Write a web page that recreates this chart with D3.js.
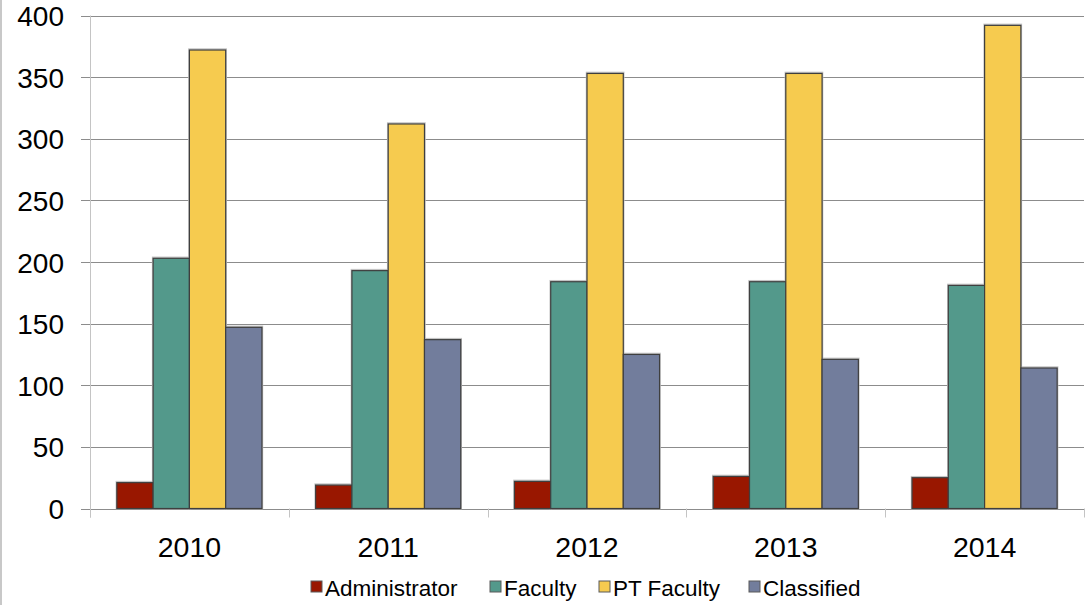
<!DOCTYPE html>
<html>
<head>
<meta charset="utf-8">
<script src="https://cdn.jsdelivr.net/npm/d3@7"></script>
<style>
  body { margin: 0; background: #fff; }
  svg { display: block; font-family: "Liberation Sans", Arial, sans-serif; }
</style>
</head>
<body>
<div class="chart"></div>
<script>
// Staff counts by year, grouped bars
var years = ["2010", "2011", "2012", "2013", "2014"];
var seriesNames = ["Administrator", "Faculty", "PT Faculty", "Classified"];
var administrator = [21, 19, 22, 26, 25];
var faculty = [203, 193, 184, 184, 181];
var ptFaculty = [372, 312, 353, 353, 392];
var classified = [147, 137, 125, 121, 114];
var yTicks = [0, 50, 100, 150, 200, 250, 300, 350, 400];
var colors = ["#991700", "#53998b", "#f6cb4f", "#727d9c"];

var svgWidth = 1085;
var svgHeight = 605;

// plot area
var margin = { top: 15.5, right: 1, bottom: 96.5, left: 90 };
var width = svgWidth - margin.left - margin.right;
var height = svgHeight - margin.top - margin.bottom;

var table = years.map(function(y, i) {
  return { year: y, values: [administrator[i], faculty[i], ptFaculty[i], classified[i]] };
});

var svg = d3.select(".chart").append("svg")
  .attr("width", svgWidth)
  .attr("height", svgHeight);

// left frame edge
svg.append("rect")
  .attr("x", 0).attr("y", 0)
  .attr("width", 2).attr("height", svgHeight)
  .attr("fill", "#c8c8c8");

var chart = svg.append("g")
  .attr("transform", "translate(" + margin.left + "," + margin.top + ")");

var x0 = d3.scaleBand().domain(years).range([0, width]);
var gap = x0.bandwidth() * 0.135;
var x1 = d3.scaleBand().domain(d3.range(4)).range([gap, x0.bandwidth() - gap]);
var y = d3.scaleLinear().domain([0, 400]).range([height, 0]);

// gridlines + y labels
var yAxis = d3.axisLeft(y).tickValues(yTicks).tickSize(-(width + 9)).tickPadding(0);
var yg = chart.append("g")
  .attr("transform", "translate(-9,0)")
  .call(yAxis);
yg.select(".domain").remove();
yg.selectAll(".tick line").attr("stroke", "#8c8c8c").attr("shape-rendering", "crispEdges");
yg.selectAll(".tick text")
  .attr("x", -17)
  .attr("dy", "0.36em")
  .attr("fill", "#000")
  .style("font-size", "28px")
  .style("font-family", "'Liberation Sans', Arial, sans-serif");

// vertical axis line
chart.append("line")
  .attr("x1", 0.5).attr("x2", 0.5)
  .attr("y1", 0).attr("y2", height + 9)
  .attr("stroke", "#c4c4c4");

// category tick marks
var bounds = years.map(function(d) { return x0(d); }).concat([width]);
chart.selectAll(".ctick").data(bounds).enter().append("line")
  .attr("class", "ctick")
  .attr("x1", function(d) { return Math.round(d) + 0.5; })
  .attr("x2", function(d) { return Math.round(d) + 0.5; })
  .attr("y1", height).attr("y2", height + 9)
  .attr("stroke", "#c4c4c4");

// bars
var groups = chart.selectAll(".grp").data(table).enter().append("g")
  .attr("class", "grp")
  .attr("transform", function(d) { return "translate(" + x0(d.year) + ",0)"; });

groups.selectAll("rect.halo").data(function(d) { return d.values; }).enter().append("rect")
  .attr("class", "halo")
  .attr("x", function(d, i) { return x1(i) - 0.5; })
  .attr("y", function(d) { return y(d) - 1; })
  .attr("width", x1.bandwidth() + 1)
  .attr("height", function(d) { return height - y(d) + 1; })
  .attr("fill", "none")
  .attr("stroke", "#c4c4c4")
  .attr("stroke-width", 1.5);

groups.selectAll("rect.bar").data(function(d) { return d.values; }).enter().append("rect")
  .attr("class", "bar")
  .attr("x", function(d, i) { return x1(i); })
  .attr("y", function(d) { return y(d); })
  .attr("width", x1.bandwidth())
  .attr("height", function(d) { return height - y(d); })
  .attr("fill", function(d, i) { return colors[i]; })
  .attr("stroke", "#3f3f3f")
  .attr("stroke-width", 1.2);

// x labels
chart.selectAll(".xlab").data(years).enter().append("text")
  .attr("class", "xlab")
  .attr("x", function(d) { return x0(d) + x0.bandwidth() / 2; })
  .attr("y", 557 - margin.top)
  .attr("text-anchor", "middle")
  .style("font-size", "28.5px")
  .text(function(d) { return d; });

// legend
var legendX = [311, 490, 599, 749];
var legend = svg.selectAll(".leg").data(seriesNames).enter().append("g")
  .attr("class", "leg")
  .attr("transform", function(d, i) { return "translate(" + legendX[i] + ",581)"; });

legend.append("rect")
  .attr("width", 11).attr("height", 11)
  .attr("fill", function(d, i) { return colors[i]; })
  .attr("stroke", "#5a5a5a")
  .attr("stroke-width", 1);

legend.append("text")
  .attr("x", 14)
  .attr("y", 14.5)
  .style("font-size", "22.5px")
  .text(function(d) { return d; });
</script>
</body>
</html>
